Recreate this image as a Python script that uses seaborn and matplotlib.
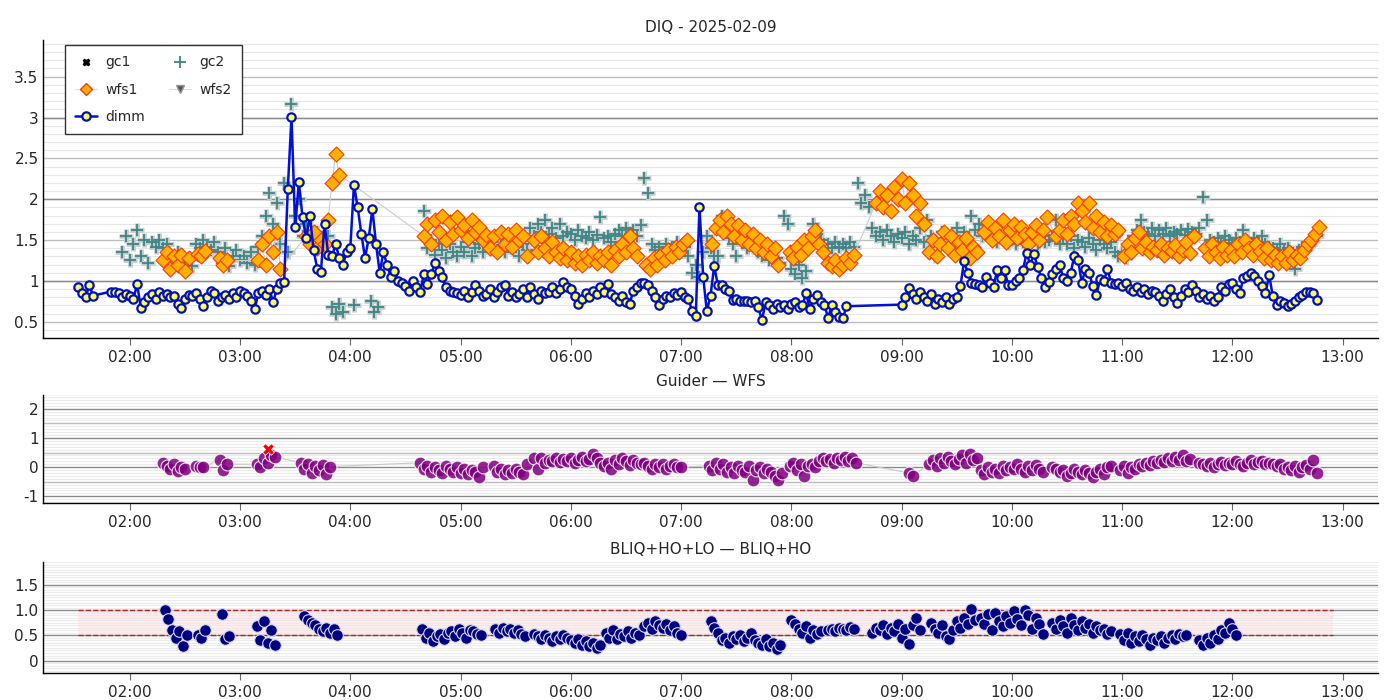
import matplotlib
matplotlib.use("Agg")
import matplotlib.pyplot as plt
import matplotlib.dates as mdates
from matplotlib.lines import Line2D
from matplotlib.ticker import MultipleLocator, FuncFormatter
import seaborn as sns
import pandas as pd
import numpy as np

DAY = "2025-02-09"
STEP_MIN = 2  # sampling interval of every segment below

# each segment: (start time, values every STEP_MIN minutes)
dimm_segments = [
    ("01:32", [0.93, 0.85, 0.80, 0.95, 0.82]),
    ("01:50", [
        0.87, 0.86, 0.85, 0.80, 0.84,
        0.82, 0.78, 0.96, 0.67, 0.74,
        0.80, 0.84, 0.78, 0.86, 0.82,
        0.84, 0.80, 0.82, 0.72, 0.67,
        0.78, 0.83, 0.82, 0.85, 0.78,
        0.69, 0.80, 0.88, 0.85, 0.76,
        0.80, 0.83, 0.78, 0.85, 0.80,
        0.88, 0.85, 0.81, 0.76, 0.66,
        0.85, 0.88, 0.83, 0.90, 0.74,
        0.90, 0.97, 0.99, 2.13, 3.01,
        1.66, 2.21, 1.78, 1.52, 1.80,
        1.38, 1.15, 1.11, 1.70, 1.32,
        1.30, 1.45, 1.28, 1.20, 1.35,
        1.40, 2.18, 1.90, 1.58, 1.28,
        1.52, 1.88, 1.45, 1.10, 1.35,
        1.20, 1.05, 1.12, 1.00, 0.98,
        0.94, 0.88, 1.00, 0.92, 0.86,
        1.08, 0.96, 1.08, 1.22, 1.12,
        1.05, 0.92, 0.88, 0.86, 0.85,
        0.83, 0.88, 0.80, 0.86, 0.95,
        0.88, 0.82, 0.84, 0.90, 0.80,
        0.86, 0.92, 0.95, 0.82, 0.86,
        0.80, 0.84, 0.90, 0.80, 0.92,
        0.84, 0.78, 0.88, 0.85, 0.86,
        0.92, 0.85, 0.90, 0.99, 0.93,
        0.90, 0.82, 0.72, 0.78, 0.85,
        0.80, 0.88, 0.84, 0.93, 0.86,
        0.96, 0.84, 0.80, 0.76, 0.82,
        0.74, 0.72, 0.88, 0.92, 0.97,
        0.98, 0.95, 0.88, 0.80, 0.71,
        0.78, 0.82, 0.80, 0.85, 0.83,
        0.86, 0.80, 0.78, 0.63, 0.57,
        1.91, 1.05, 0.63, 0.82, 1.18,
        0.95, 0.95, 0.90, 0.88, 0.77,
        0.78, 0.76, 0.75, 0.76, 0.74,
        0.76, 0.68, 0.52, 0.74, 0.70,
        0.66, 0.72, 0.68, 0.70, 0.66,
        0.72, 0.74, 0.68, 0.70, 0.85,
        0.66, 0.78, 0.83, 0.74, 0.70,
        0.55, 0.70, 0.62, 0.56, 0.54,
        0.69]),
    ("09:00", [
        0.71, 0.80, 0.91, 0.84, 0.78,
        0.86, 0.80, 0.76, 0.84, 0.72,
        0.78, 0.74, 0.80, 0.72, 0.78,
        0.80, 0.94, 1.24, 1.10, 0.98,
        0.96, 0.95, 0.92, 1.05, 0.97,
        0.93, 1.13, 1.04, 1.13, 0.95,
        0.95, 1.00, 1.04, 1.13, 1.34,
        1.20, 1.33, 1.17, 1.04, 0.93,
        0.99, 1.08, 1.15, 1.19, 1.04,
        1.00, 1.10, 1.31, 1.26, 0.98,
        1.14, 1.10, 0.94, 0.83, 1.02,
        1.00, 1.14, 0.98, 0.96, 0.98,
        0.94, 0.97, 0.90, 0.88, 0.92,
        0.86, 0.90, 0.84, 0.88, 0.86,
        0.82, 0.76, 0.84, 0.90, 0.80,
        0.73, 0.82, 0.90, 0.86, 0.95,
        0.88, 0.80, 0.84, 0.78, 0.82,
        0.75, 0.80, 0.92, 0.88, 0.96,
        0.97, 0.90, 0.85, 1.04, 1.06,
        1.10, 1.06, 1.00, 0.94, 0.85,
        1.07, 0.81, 0.71, 0.75, 0.73,
        0.69, 0.72, 0.75, 0.80, 0.83,
        0.87, 0.86, 0.85, 0.77]),
]

wfs1_segments = [
    ("02:18", [1.25, 1.35, 1.15, 1.30, 1.20, 1.32, 1.12, 1.28]),
    ("02:37", [1.33, 1.30, 1.36]),
    ("02:49", [1.28, 1.20, 1.25]),
    ("03:10", [1.25, 1.45, 1.20, 1.55, 1.35, 1.60, 1.15]),
    ("03:36", [1.55, 1.45, 1.60, 1.40, 1.50, 1.45, 1.75, 2.20, 2.55, 2.30]),
    ("04:40", [1.55, 1.70, 1.45, 1.75, 1.60, 1.80, 1.50, 1.72, 1.58,
               1.78, 1.62, 1.68, 1.52, 1.74, 1.60, 1.66, 1.50, 1.56]),
    ("05:16", [1.40, 1.55, 1.35, 1.60, 1.45, 1.58, 1.42, 1.62, 1.50, 1.55, 1.30]),
    ("05:40", [1.50, 1.35, 1.55, 1.40, 1.30, 1.48, 1.35, 1.28, 1.40, 1.25,
               1.35, 1.22, 1.30, 1.20, 1.32, 1.25, 1.35, 1.22, 1.30]),
    ("06:18", [1.25, 1.35, 1.20, 1.38, 1.30, 1.45, 1.35, 1.55, 1.40, 1.30]),
    ("06:41", [1.20, 1.15, 1.28, 1.20, 1.32, 1.25, 1.38, 1.30, 1.42, 1.35, 1.45, 1.50]),
    ("07:17", [1.45, 1.65, 1.75, 1.60, 1.80, 1.70, 1.55, 1.68, 1.50, 1.62,
               1.45, 1.58, 1.40, 1.50, 1.35, 1.45, 1.30, 1.40, 1.20]),
    ("07:59", [1.35, 1.28, 1.42, 1.32, 1.50, 1.40, 1.55, 1.62, 1.45, 1.35]),
    ("08:20", [1.22, 1.18, 1.25, 1.15, 1.20, 1.28, 1.22, 1.32]),
    ("08:46", [1.95, 2.10, 1.90, 2.05, 1.85, 2.15, 2.00, 2.25, 1.95, 2.20,
               2.05, 1.80, 1.95, 1.70]),
    ("09:15", [1.35, 1.50, 1.30, 1.45, 1.60, 1.40, 1.55, 1.32, 1.48, 1.38,
               1.52, 1.28, 1.42, 1.35]),
    ("09:45", [1.60, 1.72, 1.50, 1.65, 1.55, 1.75, 1.48, 1.62, 1.70, 1.52,
               1.66, 1.58, 1.45, 1.60, 1.68, 1.50, 1.62, 1.78]),
    ("10:24", [1.55, 1.62, 1.75, 1.58, 1.80, 1.70, 1.95, 1.85, 1.72, 1.95,
               1.65, 1.80, 1.60, 1.72, 1.55, 1.68, 1.58, 1.62]),
    ("11:01", [1.30, 1.45, 1.35, 1.52, 1.60, 1.40, 1.48, 1.35, 1.42, 1.38,
               1.45, 1.32, 1.40, 1.36, 1.44, 1.30, 1.38, 1.48, 1.34, 1.55]),
    ("11:45", [1.40, 1.30, 1.45, 1.35, 1.28, 1.42, 1.32, 1.38, 1.30, 1.45,
               1.35, 1.50, 1.40, 1.32, 1.45, 1.36, 1.28, 1.40, 1.25, 1.32, 1.22]),
    ("12:27", [1.30, 1.22, 1.35, 1.25, 1.32, 1.28, 1.38, 1.45, 1.50, 1.58, 1.66]),
]

gc2_segments = [
    ("01:56", [1.35, 1.55, 1.25, 1.45, 1.62, 1.30, 1.50, 1.22]),
    ("02:12", [1.48, 1.42, 1.50, 1.40, 1.45]),
    ("02:22", [1.30, 1.22, 1.35, 1.25, 1.20, 1.28, 1.18]),
    ("02:36", [1.45, 1.40, 1.50, 1.42, 1.38, 1.48]),
    ("02:48", [1.35, 1.22, 1.40, 1.18, 1.30, 1.38, 1.25]),
    ("03:02", [1.30, 1.22, 1.35, 1.20, 1.42]),
    ("03:12", [1.55, 1.80, 2.08, 1.70, 1.95]),
    ("03:22", [1.45, 2.20, 1.35, 3.17, 1.80, 2.00, 1.55, 1.70]),
    ("03:38", [1.55, 1.48, 1.60, 1.50, 1.45, 1.55]),
    ("03:50", [0.68, 0.60, 0.72, 0.62]),
    ("04:02", [0.70]),
    ("04:11", [0.75, 0.62, 0.68]),
    ("04:40", [
        1.85, 1.40, 1.50, 1.32, 1.45,
        1.38, 1.28, 1.45, 1.35, 1.30,
        1.42, 1.35, 1.48, 1.30, 1.40,
        1.45, 1.35, 1.50, 1.40, 1.42,
        1.38, 1.48, 1.35, 1.45, 1.40,
        1.42, 1.30, 1.45, 1.38, 1.65,
        1.55, 1.70, 1.60, 1.75, 1.58,
        1.65, 1.52, 1.70, 1.55, 1.60,
        1.58, 1.50, 1.62, 1.55, 1.52,
        1.60, 1.50, 1.56, 1.78, 1.52,
        1.55, 1.48, 1.58, 1.62, 1.55,
        1.65, 1.58, 1.62, 1.55, 1.68,
        2.26, 2.08, 1.45, 1.38, 1.42,
        1.35, 1.45, 1.32, 1.40, 1.48,
        1.38, 1.42, 1.30, 1.10, 1.20,
        1.05, 1.35, 1.55, 1.40, 1.30,
        1.30, 1.79, 1.60, 1.52, 1.45,
        1.30, 1.55, 1.48, 1.40, 1.50,
        1.42, 1.35, 1.30, 1.40, 1.25,
        1.35, 1.28, 1.22, 1.80, 1.70,
        1.15, 1.08, 1.20, 1.03, 1.12,
        1.55, 1.70, 1.58, 1.50, 1.45,
        1.45, 1.40, 1.48, 1.42, 1.45,
        1.40, 1.48, 1.42, 2.20, 1.95,
        2.05, 1.90, 1.65, 1.55, 1.60,
        1.50, 1.62, 1.55, 1.48, 1.58,
        1.52, 1.60, 1.45, 1.55, 1.50,
        1.65, 1.48, 1.75, 1.55, 1.30,
        1.45, 1.60, 1.52, 1.42, 1.55,
        1.65, 1.48, 1.60, 1.50, 1.80,
        1.62, 1.70, 1.55, 1.68, 1.60,
        1.52, 1.48, 1.55, 1.50, 1.46,
        1.50, 1.45, 1.52, 1.48, 1.55,
        1.47, 1.52, 1.45, 1.50, 1.48,
        1.50, 1.55, 1.74, 1.45, 1.52,
        1.45, 1.55, 1.40, 1.50, 1.48,
        1.42, 1.52, 1.45, 1.38, 1.50,
        1.45, 1.40, 1.48, 1.35, 1.30,
        1.35, 1.28, 1.40, 1.55, 1.62,
        1.74, 1.60, 1.58, 1.65, 1.55,
        1.62, 1.58, 1.65, 1.55, 1.60,
        1.58, 1.62, 1.56, 1.64, 1.60,
        1.58, 1.65, 2.03, 1.75, 1.50,
        1.48, 1.52, 1.45, 1.55, 1.50,
        1.46, 1.52, 1.48, 1.62, 1.50,
        1.45, 1.52, 1.48, 1.55, 1.45,
        1.42, 1.40, 1.38, 1.45, 1.36,
        1.40, 1.35, 1.14, 1.38, 1.42,
        1.40, 1.45, 1.50, 1.55]),
]

gw_segments = [
    ("02:18", [0.15, 0.05, -0.05, 0.10, -0.12, 0.02, -0.08]),
    ("02:36", [0.04, 0.02, 0.00]),
    ("02:49", [0.25, -0.10, 0.10]),
    ("03:09", [0.10, 0.00, 0.30, 0.15, 0.42, 0.35]),
    ("03:33", [0.15, -0.05, 0.10, -0.20, 0.05, -0.10, 0.08, -0.25, 0.02]),
    ("04:38", [0.15, -0.05, 0.05, -0.15, 0.00, -0.10, -0.20, 0.05, -0.08,
               -0.15, 0.00, -0.20, -0.05, -0.25, -0.10, -0.18, -0.35, 0.00]),
    ("05:18", [0.05, -0.15, -0.05, -0.25, -0.10, -0.20, -0.05, -0.15, -0.22, 0.12]),
    ("05:40", [0.30, -0.05, 0.30, 0.15, 0.25, 0.20, 0.32, 0.18, 0.28, 0.22,
               0.30, 0.15, 0.25, 0.35, 0.20, 0.28, 0.45, 0.30, 0.15]),
    ("06:18", [0.05, 0.15, -0.05, 0.25, 0.10, 0.30, 0.20, 0.08, 0.25, 0.15, 0.10]),
    ("06:40", [0.15, 0.05, -0.05, 0.10, 0.00, 0.12, -0.08, 0.05, 0.10, 0.02, 0.00]),
    ("07:15", [0.05, -0.10, 0.15, -0.05, 0.10, -0.15, 0.00, -0.20, 0.05, -0.10,
               -0.15, 0.05, -0.45, -0.10, 0.00, -0.20, -0.05, -0.15, -0.30, -0.45, -0.20]),
    ("07:59", [0.05, 0.15, -0.10, 0.10, -0.30, 0.05, 0.12, 0.00, 0.20, 0.32]),
    ("08:19", [0.20, 0.28, 0.15, 0.30, 0.25, 0.35, 0.22, 0.30, 0.15]),
    ("09:04", [-0.20, -0.30]),
    ("09:15", [0.10, 0.25, 0.05, 0.30, 0.15, 0.35, 0.20, 0.10, 0.28, 0.40,
               0.15, 0.45, 0.25, 0.30]),
    ("09:43", [-0.10, -0.25, 0.00, -0.15, -0.05, -0.20, 0.05, -0.10, 0.00, -0.08,
               0.10, -0.05, -0.15, 0.05, -0.10, 0.08, -0.05, -0.15]),
    ("10:22", [0.00, -0.05, -0.15, -0.10, -0.30, -0.20, -0.05, -0.15, -0.25, -0.10,
               -0.20, -0.35, -0.15, -0.05, -0.25, 0.00, 0.05]),
    ("10:59", [-0.10, 0.05, -0.20, 0.00, -0.05, 0.10, 0.05, 0.15, 0.08, 0.20,
               0.15, 0.25, 0.18, 0.30, 0.22, 0.35, 0.25, 0.40, 0.20, 0.28]),
    ("11:42", [0.15, 0.10, 0.05, 0.15, 0.00, 0.12, 0.18, 0.08, 0.15, 0.10,
               0.20, 0.12, 0.05, 0.15, 0.25, 0.10, 0.18, 0.22, 0.12, 0.15, 0.10]),
    ("12:24", [0.05, 0.10, -0.05, 0.00, -0.10, 0.05, -0.15, 0.00, 0.08, -0.05, 0.25, -0.20]),
]
gw_flag_time = ["03:15"]
gw_flag_value = [0.62]

bliq_segments = [
    ("02:19", [1.00, 0.82, 0.60, 0.45, 0.58, 0.28, 0.50]),
    ("02:37", [0.50, 0.45, 0.60]),
    ("02:50", [0.93, 0.42, 0.48]),
    ("03:09", [0.68, 0.40, 0.78, 0.35, 0.60, 0.30]),
    ("03:35", [0.88, 0.80, 0.75, 0.70, 0.62, 0.58, 0.65, 0.55, 0.62, 0.50]),
    ("04:39", [0.62, 0.45, 0.55, 0.38, 0.48, 0.52, 0.42, 0.55, 0.58, 0.48,
               0.62, 0.55, 0.45, 0.60, 0.58, 0.52, 0.50]),
    ("05:19", [0.62, 0.55, 0.65, 0.58, 0.62, 0.55, 0.60, 0.52, 0.48]),
    ("05:40", [0.52, 0.48, 0.42, 0.50, 0.45, 0.38, 0.48, 0.42, 0.50, 0.45,
               0.40, 0.35, 0.42, 0.30, 0.38, 0.28, 0.35, 0.25, 0.30]),
    ("06:19", [0.55, 0.45, 0.60, 0.42, 0.52, 0.48, 0.58, 0.45, 0.55, 0.50]),
    ("06:40", [0.68, 0.75, 0.62, 0.78, 0.70, 0.65, 0.72, 0.60, 0.68, 0.55, 0.50]),
    ("07:16", [0.78, 0.65, 0.55, 0.40, 0.45, 0.35, 0.48, 0.42, 0.50, 0.38,
               0.45, 0.55, 0.40, 0.35, 0.30, 0.42, 0.28, 0.35, 0.22, 0.30]),
    ("08:00", [0.80, 0.72, 0.62, 0.55, 0.68, 0.45, 0.60, 0.52, 0.58]),
    ("08:20", [0.60, 0.62, 0.58, 0.65, 0.62, 0.60, 0.66, 0.62]),
    ("08:44", [0.55, 0.65, 0.60, 0.70, 0.52, 0.65, 0.58, 0.72, 0.45, 0.62,
               0.32, 0.70, 0.85, 0.60]),
    ("09:16", [0.75, 0.62, 0.55, 0.70, 0.48, 0.42, 0.60, 0.78, 0.65, 0.85,
               0.72, 1.02, 0.80]),
    ("09:43", [0.85, 0.72, 0.92, 0.60, 0.95, 0.78, 0.68, 0.88, 0.75, 0.98,
               0.82, 0.70, 1.00, 0.90, 0.62, 0.85, 0.72, 0.52]),
    ("10:22", [0.75, 0.62, 0.80, 0.68, 0.55, 0.85, 0.70, 0.60, 0.78, 0.65,
               0.72, 0.55, 0.68, 0.60, 0.62, 0.52, 0.58]),
    ("10:59", [0.52, 0.40, 0.55, 0.35, 0.48, 0.38, 0.50, 0.42, 0.30, 0.45,
               0.40, 0.48, 0.35, 0.44, 0.50, 0.42, 0.52, 0.48, 0.50]),
    ("11:42", [0.40, 0.30, 0.45, 0.35, 0.50, 0.42, 0.60, 0.55, 0.75, 0.62, 0.50]),
]
band_low, band_high = 0.5, 1.0
band_span = ["01:32", "12:55"]
x_span = ["01:13", "13:19"]


def ts(hhmm):
    return pd.Timestamp(f"{DAY} {hhmm}")


def expand(segments):
    parts = []
    for start, vals in segments:
        times = pd.date_range(ts(start), periods=len(vals), freq=f"{STEP_MIN}min")
        parts.append(pd.DataFrame({"time": times, "value": vals}))
    return pd.concat(parts, ignore_index=True)


dimm = expand(dimm_segments)
wfs1 = expand(wfs1_segments)
gc2 = expand(gc2_segments)
gw = expand(gw_segments)
bliq = expand(bliq_segments)
flag = pd.DataFrame({"time": [ts(t) for t in gw_flag_time], "value": gw_flag_value})

sns.set_style("white")
plt.rcParams["font.family"] = ["DejaVu Sans"]
plt.rcParams["axes.unicode_minus"] = False

fig = plt.figure(figsize=(14, 7), dpi=100)
ax1 = fig.add_axes([0.031, 0.517, 0.953, 0.426])
ax2 = fig.add_axes([0.031, 0.281, 0.953, 0.155])
ax3 = fig.add_axes([0.031, 0.039, 0.953, 0.158])

teal = "#3f8585"

# --- DIQ panel
sns.scatterplot(data=gc2, x="time", y="value", ax=ax1, marker="+", color="#c3cccc",
                s=95, linewidth=3.4, zorder=2)
sns.scatterplot(data=gc2, x="time", y="value", ax=ax1, marker="+", color=teal,
                s=80, linewidth=1.3, zorder=2.1)
sns.lineplot(data=wfs1, x="time", y="value", ax=ax1, color="#cccccc", linewidth=0.8,
             zorder=2.2)
sns.scatterplot(data=wfs1, x="time", y="value", ax=ax1, marker="D", color="#ffb000",
                edgecolor="#ff3a00", linewidth=0.8, s=58, zorder=2.3)
sns.lineplot(data=dimm, x="time", y="value", ax=ax1, color="#0010d8", linewidth=1.8,
             marker="o", markersize=6, markerfacecolor="#ffff55",
             markeredgecolor="#0010c0", markeredgewidth=1.6, zorder=3)
ax1.set_ylim(0.3, 3.95)
ax1.set_yticks(np.arange(0.5, 3.6, 0.5))
ax1.yaxis.set_major_formatter(FuncFormatter(lambda v, p: f"{v:g}"))
ax1.yaxis.set_minor_locator(MultipleLocator(0.1))
ax1.grid(which="minor", axis="y", color="#e6e6e6", linewidth=0.8)
ax1.grid(which="major", axis="y", color="#bdbdbd", linewidth=1)
for v in [1, 2, 3]:
    ax1.axhline(v, color="#8a8a8a", linewidth=1, zorder=1)
ax1.set_title("DIQ - 2025-02-09", fontsize=11)

handles = [
    Line2D([], [], marker="X", color="black", linestyle="none", markersize=5),
    Line2D([], [], marker="D", markerfacecolor="#ffb000", markeredgecolor="#ff3a00",
           color="#dddddd", linewidth=0.8, markersize=6),
    Line2D([], [], marker="o", markerfacecolor="#ffff55", markeredgecolor="#0010c0",
           color="#0010d8", linewidth=1.8, markersize=6, markeredgewidth=1.6),
    Line2D([], [], marker="+", color=teal, linestyle="none", markersize=8,
           markeredgewidth=1.3),
    Line2D([], [], marker="v", markerfacecolor="#555560", markeredgecolor="#999999",
           color="#dddddd", linewidth=0.8, markersize=6),
]
leg = ax1.legend(handles, ["gc1", "wfs1", "dimm", "gc2", "wfs2"], ncol=2,
                 loc="upper left", bbox_to_anchor=(0.016, 0.983), borderaxespad=0,
                 fontsize=10, frameon=True, fancybox=False, framealpha=1,
                 edgecolor="#333333", labelspacing=0.95, columnspacing=1.7,
                 borderpad=0.75, handlelength=1.6, handletextpad=0.6)
leg.get_frame().set_linewidth(1)

# --- Guider - WFS panel
sns.lineplot(data=gw, x="time", y="value", ax=ax2, color="#c8c8c8", linewidth=0.8,
             zorder=2)
sns.scatterplot(data=gw, x="time", y="value", ax=ax2, color="#800080",
                edgecolor="white", linewidth=0.8, s=85, alpha=0.85, zorder=3)
sns.scatterplot(data=flag, x="time", y="value", ax=ax2, marker="X", color="red",
                s=70, linewidth=0.5, zorder=4)
ax2.set_ylim(-1.24, 2.48)
ax2.set_yticks([-1, 0, 1, 2])
ax2.yaxis.set_minor_locator(MultipleLocator(0.1))
ax2.grid(which="minor", axis="y", color="#ebebeb", linewidth=0.8)
ax2.grid(which="major", axis="y", color="#8a8a8a", linewidth=1)
for v in [-0.5, 0.5, 1.5, 2.5]:
    ax2.axhline(v, color="#bdbdbd", linewidth=1, zorder=1)
ax2.set_title("Guider — WFS", fontsize=11)

# --- BLIQ panel
band_x = [ts(t) for t in band_span]
ax3.fill_between(band_x, band_low, band_high, color="#fbe3e3", alpha=0.6, zorder=1.5,
                 linewidth=0)
for v in [band_low, band_high]:
    ax3.plot(band_x, [v, v], color="#b22222", linestyle="--", linewidth=1, zorder=2)
sns.scatterplot(data=bliq, x="time", y="value", ax=ax3, color="#000080",
                edgecolor="#d8d8e8", linewidth=0.8, s=70, zorder=3)
ax3.set_ylim(-0.24, 1.95)
ax3.set_yticks([0, 0.5, 1.0, 1.5])
ax3.yaxis.set_major_formatter(FuncFormatter(lambda v, p: "0" if v == 0 else f"{v:.1f}"))
ax3.yaxis.set_minor_locator(MultipleLocator(0.05))
ax3.grid(which="minor", axis="y", color="#ececec", linewidth=0.8)
ax3.grid(which="major", axis="y", color="#8a8a8a", linewidth=1)
ax3.set_title("BLIQ+HO+LO — BLIQ+HO", fontsize=11)

for ax in (ax1, ax2, ax3):
    ax.set_xlim(ts(x_span[0]), ts(x_span[1]))
    ax.xaxis.set_major_locator(mdates.HourLocator())
    ax.xaxis.set_major_formatter(mdates.DateFormatter("%H:%M"))
    ax.set_xlabel("")
    ax.set_ylabel("")
    ax.set_axisbelow(True)
    ax.tick_params(axis="x", which="major", length=5, color="#666666", labelsize=11,
                   direction="out", bottom=True)
    ax.tick_params(axis="y", which="both", length=0, labelsize=11)
    for side in ("top", "right"):
        ax.spines[side].set_visible(False)
    for side in ("left", "bottom"):
        ax.spines[side].set_color("black")
        ax.spines[side].set_linewidth(1)

fig.savefig("out.png", dpi=100)
